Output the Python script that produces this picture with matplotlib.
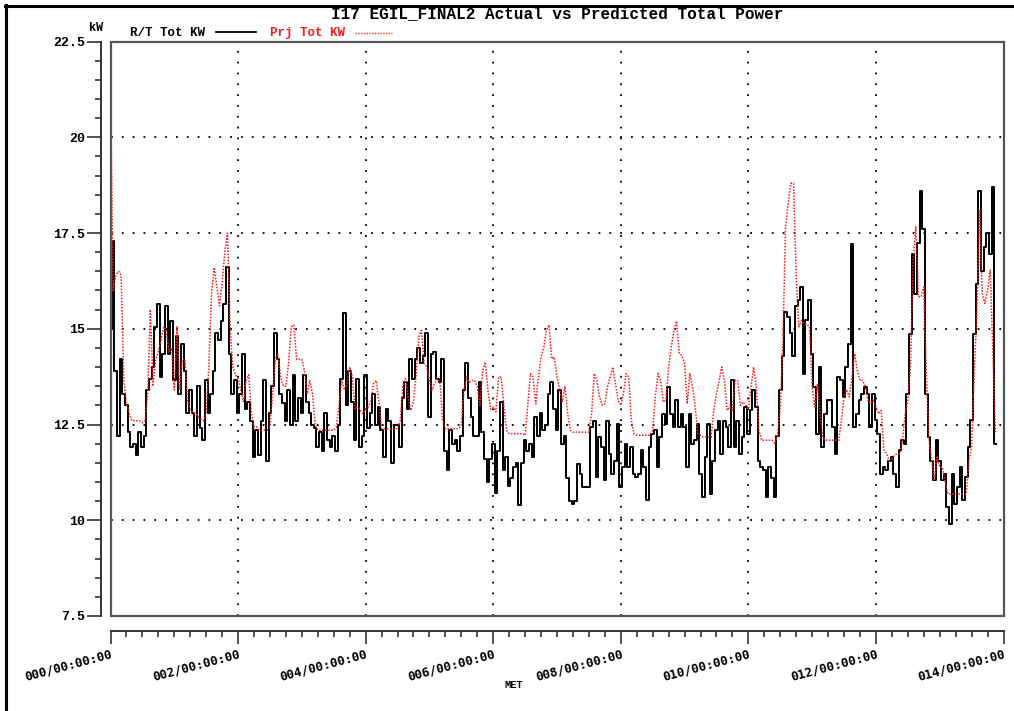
import matplotlib
matplotlib.use("Agg")
import matplotlib.pyplot as plt
from matplotlib.ticker import MultipleLocator, FixedLocator
from matplotlib.patches import Rectangle
from matplotlib.lines import Line2D
import numpy as np

# ---------------- data (hourly samples, kW) ----------------
actual_kw = [
    15.0, 17.3, 13.9, 12.2, 14.2, 13.3, 13.0, 12.3, 11.9, 12.0, 11.7, 12.3, 11.9, 12.2, 13.4, 13.7, 14.0, 15.05, 15.65, 13.75, 14.35, 15.6, 14.35, 15.2,
    13.65, 14.8, 13.3, 14.6, 13.9, 12.8, 13.4, 12.8, 12.2, 13.5, 12.4, 12.1, 13.65, 12.8, 13.3, 13.9, 14.9, 14.7, 15.2, 15.65, 16.6, 14.35, 13.3, 13.65,
    12.8, 13.3, 14.35, 12.9, 13.1, 12.6, 11.65, 12.35, 11.7, 12.6, 13.65, 11.56, 12.8, 13.5, 14.9, 14.2, 13.3, 13.05, 12.6, 13.4, 12.5, 13.8, 12.6, 13.2,
    12.8, 13.8, 13.1, 12.8, 12.5, 12.4, 11.9, 12.3, 11.8, 12.8, 12.1, 11.9, 12.2, 11.8, 12.5, 13.7, 15.4, 13.0, 13.9, 13.1, 12.1, 13.7, 11.9, 12.2,
    13.8, 12.4, 12.8, 13.3, 12.5, 12.95, 12.35, 11.65, 12.9, 12.6, 11.5, 12.5, 12.5, 11.9, 13.2, 13.6, 12.9, 14.2, 13.7, 14.2, 14.5, 14.1, 14.3, 14.9,
    12.7, 14.35, 14.4, 13.7, 13.6, 14.2, 11.8, 11.3, 12.35, 12.0, 12.1, 11.8, 12.2, 13.4, 14.1, 13.2, 12.7, 12.2, 12.2, 13.6, 12.3, 11.6, 11.0, 11.6,
    12.0, 10.7, 11.8, 13.1, 11.3, 11.65, 10.9, 11.1, 11.4, 11.5, 10.4, 11.5, 12.1, 11.8, 12.0, 11.65, 12.7, 12.2, 12.8, 12.35, 12.5, 13.3, 13.6, 12.9,
    12.35, 13.4, 12.0, 12.2, 11.1, 10.5, 10.43, 10.5, 11.48, 11.2, 10.87, 10.87, 10.87, 12.44, 12.6, 11.13, 12.17, 11.91, 11.04, 12.6, 11.74, 11.2, 11.56, 12.52,
    10.87, 11.39, 12.0, 11.39, 11.91, 11.2, 11.13, 11.2, 11.83, 11.39, 10.52, 11.91, 12.26, 12.35, 11.39, 12.17, 12.78, 12.52, 13.48, 12.78, 12.44, 13.13, 12.44, 12.78,
    12.44, 11.39, 12.78, 12.0, 12.09, 12.52, 11.2, 10.61, 11.65, 12.52, 10.69, 11.56, 12.35, 12.6, 11.74, 12.6, 12.44, 11.91, 13.65, 11.91, 12.6, 11.74, 12.17, 12.95,
    12.26, 12.87, 13.39, 12.95, 11.56, 11.39, 11.3, 10.61, 11.39, 11.1, 10.6, 12.2, 13.4, 14.3, 15.45, 15.3, 14.9, 14.3, 15.6, 15.75, 16.1, 13.83, 15.22, 15.75,
    14.35, 13.48, 12.26, 14.0, 11.9, 12.78, 13.13, 13.13, 12.44, 11.74, 13.74, 13.65, 13.22, 14.0, 14.6, 17.2, 12.44, 12.78, 13.13, 13.3, 13.48, 13.3, 12.44, 13.3,
    12.61, 12.26, 11.22, 11.39, 11.3, 11.56, 11.65, 11.22, 10.87, 11.83, 12.09, 12.0, 13.3, 14.87, 16.96, 15.92, 17.23, 18.6, 17.6, 13.3, 12.17, 11.56, 11.04, 12.09,
    11.56, 11.04, 11.22, 10.35, 9.9, 11.22, 10.43, 10.87, 11.39, 10.52, 11.13, 11.91, 12.61, 14.87, 16.18, 18.6, 16.5, 17.14, 17.49, 16.96, 18.7, 12.0,
]

predicted_kw = [
    21.3, 16.0, 16.4, 16.5, 16.4, 13.65, 13.05, 12.8, 12.6, 12.6, 12.6, 12.6, 12.55, 12.6, 13.3, 15.5, 13.5, 14.2, 14.4, 14.7, 15.05, 14.95, 14.4, 14.5,
    13.4, 15.05, 13.4, 14.2, 14.2, 13.1, 12.9, 12.8, 12.8, 12.7, 12.65, 12.6, 12.8, 14.0, 15.9, 16.6, 16.1, 15.6, 16.2, 17.0, 17.5, 15.05, 14.0, 13.8,
    13.7, 13.4, 13.1, 13.65, 13.8, 12.8, 12.44, 12.44, 12.35, 12.35, 12.35, 12.35, 12.44, 13.3, 14.2, 14.35, 13.75, 13.5, 13.5, 14.1, 15.05, 15.1, 14.2, 14.2,
    14.2, 13.9, 13.3, 13.65, 13.3, 12.5, 12.35, 12.35, 12.35, 12.35, 12.35, 12.35, 12.35, 12.44, 13.0, 13.65, 13.4, 13.57, 14.0, 13.75, 12.9, 12.96, 12.87, 12.78,
    12.87, 12.96, 13.1, 13.57, 13.65, 13.1, 12.4, 12.39, 12.39, 12.39, 12.39, 12.39, 12.4, 12.6, 13.5, 13.7, 13.2, 12.87, 13.1, 13.8, 14.79, 14.96, 14.09, 14.0,
    13.65, 13.4, 13.57, 13.7, 13.57, 12.6, 12.39, 12.39, 12.39, 12.39, 12.39, 12.39, 12.48, 13.4, 13.74, 13.6, 13.65, 13.65, 13.5, 13.0, 13.9, 14.13, 13.4, 12.9,
    12.96, 12.83, 13.74, 13.74, 13.0, 12.35, 12.26, 12.26, 12.26, 12.26, 12.26, 12.26, 12.22, 13.0, 13.83, 13.74, 13.04, 13.74, 14.26, 14.5, 14.96, 15.1, 14.22, 14.26,
    13.74, 13.4, 13.1, 13.5, 12.8, 12.35, 12.3, 12.3, 12.3, 12.3, 12.3, 12.3, 12.3, 12.78, 13.83, 13.65, 13.22, 13.0, 13.04, 13.48, 13.74, 14.0, 13.57, 13.13,
    13.0, 13.3, 13.83, 13.74, 12.6, 12.26, 12.22, 12.22, 12.22, 12.22, 12.22, 12.22, 12.35, 13.22, 13.83, 13.65, 13.09, 13.13, 14.0, 14.53, 14.96, 15.2, 14.35, 14.3,
    14.09, 13.04, 13.83, 13.48, 12.96, 12.26, 12.22, 12.17, 12.17, 12.17, 12.17, 12.87, 13.3, 13.65, 14.0, 13.65, 12.87, 12.96, 12.87, 13.65, 13.65, 13.0, 13.09, 13.0,
    12.9, 13.48, 14.0, 13.48, 12.35, 12.09, 12.09, 12.09, 12.09, 12.09, 12.0, 12.26, 12.9, 14.7, 17.66, 18.27, 18.8, 18.8, 16.35, 15.05, 15.22, 15.13, 15.13, 15.05,
    13.48, 12.96, 13.57, 12.78, 12.17, 12.09, 12.09, 12.09, 12.09, 12.09, 12.09, 12.61, 13.22, 13.4, 13.22, 13.74, 14.35, 13.91, 13.65, 13.65, 13.48, 13.13, 13.04, 13.13,
    12.96, 12.78, 12.87, 11.83, 11.74, 11.56, 11.6, 11.7, 11.74, 11.74, 12.09, 12.78, 13.13, 14.0, 16.79, 17.66, 15.83, 15.83, 16.09, 13.74, 12.09, 11.56, 11.04, 11.65,
    11.39, 11.39, 11.04, 10.69, 10.69, 10.69, 10.69, 10.69, 10.69, 10.69, 10.69, 11.56, 11.91, 13.83, 15.48, 18.1, 15.92, 15.66, 16.0, 16.53, 14.35, 12.26,
]

x_tick_days = [0, 2, 4, 6, 8, 10, 12, 14]
x_tick_labels = ["000/00:00:00", "002/00:00:00", "004/00:00:00", "006/00:00:00",
                 "008/00:00:00", "010/00:00:00", "012/00:00:00", "014/00:00:00"]
y_ticks = [7.5, 10, 12.5, 15, 17.5, 20, 22.5]
y_tick_labels = ["7.5", "10", "12.5", "15", "17.5", "20", "22.5"]

title = "I17 EGIL_FINAL2 Actual vs Predicted Total Power"
legend_actual = "R/T Tot KW"
legend_pred = "Prj Tot KW"

hours_a = np.arange(len(actual_kw))
hours_p = np.arange(len(predicted_kw))
days_a = hours_a / 24.0
days_p = hours_p / 24.0

# ---------------- figure ----------------
W, H = 1014, 711
fig = plt.figure(figsize=(W / 100, H / 100), dpi=100)
mono = "Liberation Mono"

L, R, T, B = 110.5, 1003.5, 41.5, 616
ax = fig.add_axes([L / W, 1 - B / H, (R - L) / W, (B - T) / H])
ax.set_xlim(0, 14)
ax.set_ylim(7.5, 22.5)

# grid
grid_style = dict(color="black", lw=1.3, linestyle=(0, (1, 5.0)), zorder=1)
for d in x_tick_days[1:-1]:
    ax.axvline(d, **grid_style)
for yv in y_ticks[1:-1]:
    ax.axhline(yv, **grid_style)

ax.plot(days_p, predicted_kw, color="#ff1a1a", lw=1.1, linestyle=(0, (1, 1)), zorder=3)
ax.plot(days_a, actual_kw, color="black", lw=1.4, drawstyle="steps-mid", zorder=2)

# plot box
ax.add_patch(Rectangle((0, 0), 1, 1, transform=ax.transAxes, fill=False,
                       ec="#555555", lw=1.6, zorder=5, clip_on=False))

for s in ("top", "right"):
    ax.spines[s].set_visible(False)
ax.spines["left"].set_position(("outward", 6.5))
ax.spines["bottom"].set_position(("outward", 11))
for s in ("left", "bottom"):
    ax.spines[s].set_color("#333333")
    ax.spines[s].set_linewidth(1.4)

ax.xaxis.set_major_locator(FixedLocator(x_tick_days))
ax.xaxis.set_minor_locator(MultipleLocator(0.25))
ax.set_xticklabels(x_tick_labels)
ax.yaxis.set_major_locator(FixedLocator(y_ticks))
ax.yaxis.set_minor_locator(MultipleLocator(0.5))
ax.set_yticklabels(y_tick_labels)

ax.tick_params(axis="x", which="major", direction="out", length=9, width=1.2,
               color="#333333", pad=3)
ax.tick_params(axis="x", which="minor", direction="out", length=4.5, width=1.2,
               color="#333333")
ax.tick_params(axis="y", which="major", direction="out", length=10, width=1.2,
               color="#333333", pad=2)
ax.tick_params(axis="y", which="minor", direction="out", length=4.5, width=1.2,
               color="#333333")

for lab in ax.get_xticklabels():
    lab.set_fontfamily("DejaVu Sans Mono")
    lab.set_fontweight("bold")
    lab.set_fontsize(9)
    lab.set_rotation(15)
    lab.set_ha("right")
    lab.set_va("top")
    lab.set_rotation_mode("anchor")
for lab in ax.get_yticklabels():
    lab.set_fontfamily(mono)
    lab.set_fontweight("bold")
    lab.set_fontsize(9.5)

# texts
fig.text(557 / W, 1 - 18 / H, title, ha="center", va="baseline",
         fontfamily=mono, fontweight="bold", fontsize=11.5)
fig.text(96 / W, 1 - 31 / H, "kW", ha="center", va="baseline",
         fontfamily=mono, fontweight="bold", fontsize=8.5)
fig.text(130 / W, 1 - 36 / H, legend_actual, ha="left", va="baseline",
         fontfamily=mono, fontweight="bold", fontsize=9, color="black")
fig.text(270 / W, 1 - 36 / H, legend_pred, ha="left", va="baseline",
         fontfamily=mono, fontweight="bold", fontsize=9, color="#ff1a1a")
fig.add_artist(Line2D([216 / W, 256 / W], [1 - 32 / H, 1 - 32 / H],
                      color="black", lw=1.3))
fig.add_artist(Line2D([355 / W, 392 / W], [1 - 33 / H, 1 - 33 / H],
                      color="#ff1a1a", lw=1.0, linestyle=(0, (1, 1))))
fig.text(514 / W, 1 - 688 / H, "MET", ha="center", va="baseline",
         fontfamily=mono, fontweight="bold", fontsize=7.5)

# outer frame (top and left edges)
fig.add_artist(Line2D([5 / W, 1.0], [1 - 5.5 / H, 1 - 5.5 / H], color="black", lw=2.2))
fig.add_artist(Line2D([5.5 / W, 5.5 / W], [0, 1 - 5 / H], color="black", lw=2.2))

fig.savefig("out.png", dpi=100)
